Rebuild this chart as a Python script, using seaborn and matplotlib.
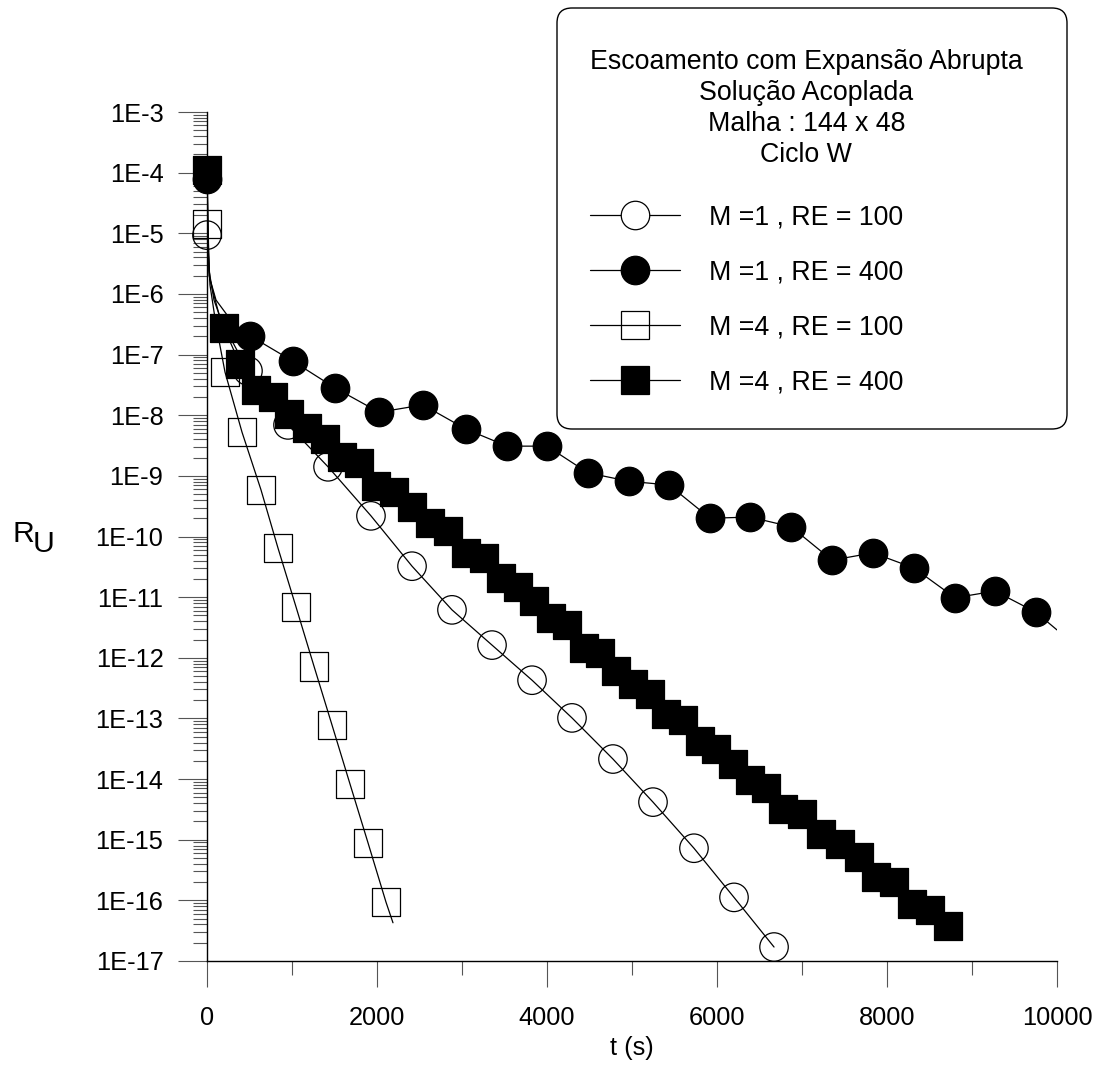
import numpy as np
import pandas as pd
import matplotlib
matplotlib.use("Agg")
import matplotlib.pyplot as plt
import matplotlib.transforms as mtransforms
from matplotlib.patches import FancyBboxPatch
import seaborn as sns
from matplotlib.ticker import FixedLocator, FuncFormatter, LogLocator, MultipleLocator, NullFormatter
from matplotlib.lines import Line2D

# ---------------- data ----------------
# M = 1, RE = 100  (open circles)
t_m1_re100 = [0, 482, 953, 1424, 1929, 2412, 2882, 3353, 3824, 4294, 4776, 5247, 5729, 6200, 6671]
r_m1_re100 = [9.33e-6, 5.37e-8, 6.92e-9, 1.41e-9, 2.19e-10, 3.24e-11, 6.17e-12, 1.62e-12,
              4.27e-13, 1.02e-13, 2.14e-14, 4.17e-15, 7.24e-16, 1.12e-16, 1.70e-17]

# M = 1, RE = 400  (filled circles)
t_m1_re400 = [0, 506, 1012, 1506, 2024, 2541, 3047, 3530, 4000, 4482, 4965, 5435, 5918,
              6388, 6871, 7353, 7835, 8318, 8800, 9271, 9753]
r_m1_re400 = [7.94e-5, 2.04e-7, 7.76e-8, 2.82e-8, 1.12e-8, 1.48e-8, 5.89e-9, 3.09e-9, 3.09e-9,
              1.12e-9, 8.13e-10, 7.08e-10, 2.00e-10, 2.09e-10, 1.45e-10, 4.07e-11, 5.37e-11,
              3.02e-11, 9.77e-12, 1.26e-11, 5.62e-12]

# M = 4, RE = 100  (open squares)
t_m4_re100 = [0, 212, 412, 635, 835, 1047, 1259, 1471, 1682, 1894, 2106]
r_m4_re100 = [1.41e-5, 5.13e-8, 5.25e-9, 5.89e-10, 6.46e-11, 6.92e-12, 7.24e-13, 7.76e-14,
              8.32e-15, 8.91e-16, 9.33e-17]

# M = 4, RE = 400  (filled squares)
t_m4_re400 = [0, 200, 388, 576, 776, 965, 1176, 1388, 1588, 1788, 1988, 2200, 2412, 2624,
              2835, 3047, 3259, 3459, 3659, 3847, 4047, 4235, 4435, 4624, 4812, 5012, 5212,
              5400, 5600, 5800, 5988, 6188, 6388, 6576, 6776, 7000, 7224, 7447, 7671, 7871,
              8082, 8294, 8506, 8718]
r_m4_re400 = [1.12e-4, 2.75e-7, 6.92e-8, 2.63e-8, 2.00e-8, 1.05e-8, 6.17e-9, 4.07e-9, 2.04e-9,
              1.62e-9, 6.76e-10, 5.37e-10, 3.09e-10, 1.66e-10, 1.23e-10, 5.37e-11, 4.47e-11,
              2.09e-11, 1.48e-11, 8.71e-12, 4.57e-12, 3.47e-12, 1.45e-12, 1.20e-12, 6.03e-13,
              3.72e-13, 2.51e-13, 1.17e-13, 9.33e-14, 4.27e-14, 3.16e-14, 1.78e-14, 9.55e-15,
              7.08e-15, 3.24e-15, 2.63e-15, 1.23e-15, 8.51e-16, 5.13e-16, 2.40e-16, 2.00e-16,
              8.71e-17, 6.92e-17, 3.80e-17]

# extra points of the connecting curves: the near-vertical initial drop, and curve ends
curve_start_t = {"c_open": [35, 153], "c_fill": [24, 106, 306],
                 "s_open": [35, 106], "s_fill": [24, 82]}
curve_start_r = {"c_open": [1.70e-6, 3.98e-7], "c_fill": [2.00e-6, 7.94e-7, 3.31e-7],
                 "s_open": [1.41e-6, 3.09e-7], "s_fill": [2.45e-6, 7.94e-7]}
curve_end_t = {"c_fill": [10000], "s_open": [2188]}
curve_end_r = {"c_fill": [2.88e-12], "s_open": [4.27e-17]}

labels = ["M =1 , RE = 100", "M =1 , RE = 400", "M =4 , RE = 100", "M =4 , RE = 400"]
legend_title = "Escoamento com Expansão Abrupta\nSolução Acoplada\nMalha : 144 x 48\nCiclo W"
y_ticks = [10.0 ** e for e in range(-17, -2)]
x_ticks = [0, 2000, 4000, 6000, 8000, 10000]

# ---------------- style ----------------
sns.set_theme(style="ticks")
plt.rcParams['font.family'] = ['Liberation Sans', 'DejaVu Sans']
plt.rcParams['text.color'] = 'black'
plt.rcParams['axes.labelcolor'] = 'black'
plt.rcParams['xtick.labelcolor'] = 'black'
plt.rcParams['ytick.labelcolor'] = 'black'

W, H = 1101, 1075
fig = plt.figure(figsize=(W / 100, H / 100), dpi=100)
ax = fig.add_axes([207 / W, 1 - 961 / H, 850 / W, 849 / H])

series = [
    ("c_open", t_m1_re100, r_m1_re100, "o", "none", 2),
    ("s_open", t_m4_re100, r_m4_re100, "s", "none", 3),
    ("c_fill", t_m1_re400, r_m1_re400, "o", "black", 4),
    ("s_fill", t_m4_re400, r_m4_re400, "s", "black", 5),
]

MS = 20.5
for key, t, r, mk, fc, z in series:
    lt = [t[0]] + curve_start_t[key] + list(t[1:]) + curve_end_t.get(key, [])
    lr = [r[0]] + curve_start_r[key] + list(r[1:]) + curve_end_r.get(key, [])
    dline = pd.DataFrame({"t": lt, "r": lr})
    sns.lineplot(data=dline, x="t", y="r", ax=ax, color="black", lw=0.9,
                 sort=False, estimator=None, zorder=z, legend=False)
    dmark = pd.DataFrame({"t": t, "r": r})
    sns.scatterplot(data=dmark, x="t", y="r", ax=ax, marker=mk, s=MS ** 2,
                    facecolor=fc, edgecolor="black", linewidth=0.9,
                    zorder=z + 0.5, clip_on=False, legend=False)

ax.set_yscale("log")
ax.set_xlim(0, 10000)
ax.set_ylim(1e-17, 1e-3)

ax.yaxis.set_major_locator(FixedLocator(y_ticks))
ax.yaxis.set_major_formatter(FuncFormatter(lambda v, p: "1E%d" % int(round(np.log10(v)))))
ax.yaxis.set_minor_locator(LogLocator(base=10, subs=np.arange(2, 10), numticks=100))
ax.yaxis.set_minor_formatter(NullFormatter())
ax.xaxis.set_major_locator(FixedLocator(x_ticks))
ax.xaxis.set_minor_locator(MultipleLocator(1000))

for s in ["top", "right"]:
    ax.spines[s].set_visible(False)
for s in ["left", "bottom"]:
    ax.spines[s].set_color("black")
    ax.spines[s].set_linewidth(1.0)

ax.tick_params(axis="both", which="both", left=True, bottom=True, top=False, right=False)
ax.tick_params(axis="y", which="major", direction="out", length=20.9, width=0.8,
               color="#555555", pad=10.5, labelsize=18.3, labelcolor="black")
ax.tick_params(axis="y", which="minor", direction="out", length=10, width=0.8, color="#555555")
ax.tick_params(axis="x", which="major", direction="out", length=18.7, width=0.8,
               color="#555555", pad=14, labelsize=18.3, labelcolor="black")
ax.tick_params(axis="x", which="minor", direction="out", length=10, width=0.8, color="#555555")
ax.set_ylabel("")
ax.set_xlabel("t (s)", fontsize=18.3, color="black")
ax.xaxis.set_label_coords(0.5, (961 - 1048) / 849)
ax.xaxis.label.set_va("center")

fig.text(13 / W, 1 - 542 / H, "R", fontsize=21.7, ha="left", va="baseline", color="black")
fig.text(33 / W, 1 - 552 / H, "U", fontsize=21.7, ha="left", va="baseline", color="black")

# legend frame (rounded box)
frame = FancyBboxPatch((557, H - 429), 510, 421, boxstyle="round,pad=0,rounding_size=15",
                       transform=mtransforms.IdentityTransform(), facecolor="white",
                       edgecolor="black", linewidth=1.0, zorder=10)
fig.add_artist(frame)

handles = [
    Line2D([], [], color="black", lw=0.9, marker="o", ms=MS, mfc="white", mec="black", mew=0.9),
    Line2D([], [], color="black", lw=0.9, marker="o", ms=MS, mfc="black", mec="black", mew=0.9),
    Line2D([], [], color="black", lw=0.9, marker="s", ms=MS, mfc="none", mec="black", mew=0.9),
    Line2D([], [], color="black", lw=0.9, marker="s", ms=MS, mfc="black", mec="black", mew=0.9),
]
FS = 19.3
leg = fig.legend(handles, labels, title=legend_title, loc="upper left",
                 bbox_to_anchor=(590 / W, 1 - 49 / H), bbox_transform=fig.transFigure,
                 borderaxespad=0, fontsize=FS, title_fontsize=FS, handlelength=3.35,
                 handletextpad=1.1, labelspacing=1.08, borderpad=0, frameon=False,
                 alignment="left")
leg.set_zorder(11)
ttl = leg.get_title()
ttl.set_multialignment("center")
ttl.set_linespacing(1.245)
ttl.set_color("black")
for txt in leg.get_texts():
    txt.set_color("black")
leg._legend_box.sep = 26.5

fig.savefig("out.png", dpi=100)
